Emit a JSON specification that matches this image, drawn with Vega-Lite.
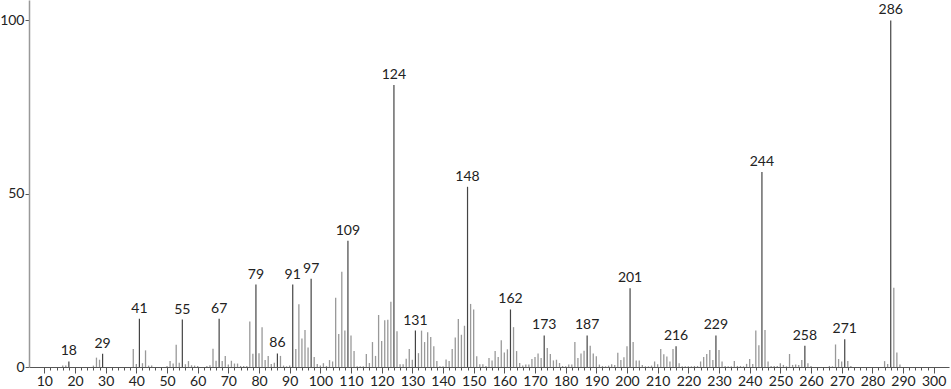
{
  "$schema": "https://vega.github.io/schema/vega-lite/v6.json",
  "width": 920,
  "height": 367,
  "autosize": "none",
  "padding": {"left": 29, "top": 0, "right": 2, "bottom": 22},
  "background": "white",
  "config": {"view": {"stroke": null}, "font": "Lato", "axis": {"labelOverlap": false, "labelBound": false, "labelFlush": false}},
  "datasets": {
    "peaks": [
      {"mz":16,"i":0.4},{"mz":17,"i":0.4},{"mz":18,"i":1.6,"lab":1},{"mz":26,"i":0.4},{"mz":27,"i":2.7},{"mz":28,"i":2.1},{"mz":29,"i":3.8,"lab":1},
      {"mz":39,"i":5.2},{"mz":40,"i":0.9},{"mz":41,"i":13.9,"lab":1},{"mz":42,"i":1.1},{"mz":43,"i":4.8},{"mz":44,"i":0.4},{"mz":45,"i":0.4},
      {"mz":50,"i":0.3},{"mz":51,"i":1.7},{"mz":52,"i":1.0},{"mz":53,"i":6.4},{"mz":54,"i":1.25},{"mz":55,"i":13.7,"lab":1},{"mz":56,"i":0.8},{"mz":57,"i":1.7},{"mz":58,"i":0.5},{"mz":59,"i":0.4},{"mz":60,"i":0.3},
      {"mz":63,"i":0.3},{"mz":64,"i":0.5},{"mz":65,"i":5.3},{"mz":66,"i":1.8},{"mz":67,"i":13.9,"lab":1},{"mz":68,"i":1.7},{"mz":69,"i":3.2},{"mz":70,"i":0.7},
      {"mz":71,"i":1.8},{"mz":72,"i":1.0},{"mz":73,"i":1.0},{"mz":74,"i":0.3},{"mz":75,"i":0.3},{"mz":76,"i":0.3},{"mz":77,"i":13.1},{"mz":78,"i":3.8},{"mz":79,"i":23.8,"lab":1},{"mz":80,"i":4.0},
      {"mz":81,"i":11.5},{"mz":82,"i":2.0},{"mz":83,"i":3.2},{"mz":84,"i":0.9},{"mz":85,"i":1.25},{"mz":86,"i":3.9,"lab":1},{"mz":87,"i":3.2},{"mz":88,"i":0.4},{"mz":89,"i":0.2},{"mz":90,"i":0.4},
      {"mz":91,"i":23.8,"lab":1},{"mz":92,"i":5.2},{"mz":93,"i":18.1},{"mz":94,"i":8.2},{"mz":95,"i":10.7},{"mz":96,"i":5.6},{"mz":97,"i":25.5,"lab":1},{"mz":98,"i":2.9},{"mz":99,"i":0.9},{"mz":100,"i":0.4},
      {"mz":101,"i":1.1},{"mz":102,"i":0.3},{"mz":103,"i":2.0},{"mz":104,"i":1.6},{"mz":105,"i":20.0},{"mz":106,"i":9.5},{"mz":107,"i":27.5},{"mz":108,"i":10.5},{"mz":109,"i":36.4,"lab":1},{"mz":110,"i":9.1},
      {"mz":111,"i":4.6},{"mz":112,"i":0.2},{"mz":113,"i":0.2},{"mz":114,"i":0.2},{"mz":115,"i":3.75},{"mz":116,"i":1.15},{"mz":117,"i":7.2},{"mz":118,"i":3.2},{"mz":119,"i":15.0},{"mz":120,"i":7.5},
      {"mz":121,"i":13.5},{"mz":122,"i":13.65},{"mz":123,"i":18.8},{"mz":124,"i":81.4,"lab":1},{"mz":125,"i":10.3},{"mz":126,"i":0.8},{"mz":127,"i":0.8},{"mz":128,"i":2.4},{"mz":129,"i":5.2},{"mz":130,"i":2.1},
      {"mz":131,"i":10.5,"lab":1},{"mz":132,"i":4.0},{"mz":133,"i":10.5},{"mz":134,"i":7.2},{"mz":135,"i":10.0},{"mz":136,"i":8.65},{"mz":137,"i":6.0},{"mz":138,"i":1.7},{"mz":139,"i":0.2},{"mz":140,"i":0.2},
      {"mz":141,"i":2.2},{"mz":142,"i":1.7},{"mz":143,"i":5.2},{"mz":144,"i":8.5},{"mz":145,"i":13.85},{"mz":146,"i":9.3},{"mz":147,"i":11.9},{"mz":148,"i":52.0,"lab":1},{"mz":149,"i":18.2},{"mz":150,"i":16.6},
      {"mz":151,"i":3.1},{"mz":152,"i":0.8},{"mz":153,"i":0.8},{"mz":154,"i":0.3},{"mz":155,"i":2.6},{"mz":156,"i":1.9},{"mz":157,"i":4.6},{"mz":158,"i":2.9},{"mz":159,"i":7.7},{"mz":160,"i":4.2},
      {"mz":161,"i":5.1},{"mz":162,"i":16.6,"lab":1},{"mz":163,"i":11.5},{"mz":164,"i":4.6},{"mz":165,"i":1.15},{"mz":166,"i":0.4},{"mz":167,"i":0.7},{"mz":168,"i":0.7},{"mz":169,"i":2.3},{"mz":170,"i":2.9},
      {"mz":171,"i":3.9},{"mz":172,"i":2.6},{"mz":173,"i":9.1,"lab":1},{"mz":174,"i":5.5},{"mz":175,"i":3.75},{"mz":176,"i":1.9},{"mz":177,"i":2.1},{"mz":178,"i":1.15},{"mz":179,"i":0.3},{"mz":180,"i":0.2},
      {"mz":181,"i":0.7},{"mz":182,"i":0.7},{"mz":183,"i":7.2},{"mz":184,"i":2.6},{"mz":185,"i":3.9},{"mz":186,"i":4.7},{"mz":187,"i":9.1,"lab":1},{"mz":188,"i":6.1},{"mz":189,"i":3.9},{"mz":190,"i":3.1},
      {"mz":191,"i":0.7},{"mz":192,"i":0.3},{"mz":193,"i":0.2},{"mz":194,"i":0.4},{"mz":195,"i":0.8},{"mz":196,"i":0.6},{"mz":197,"i":4.1},{"mz":198,"i":2.0},{"mz":199,"i":2.8},{"mz":200,"i":6.0},
      {"mz":201,"i":22.7,"lab":1},{"mz":202,"i":7.2},{"mz":203,"i":1.9},{"mz":204,"i":1.9},{"mz":205,"i":0.6},{"mz":206,"i":0.2},{"mz":207,"i":0.2},{"mz":208,"i":0.4},{"mz":209,"i":1.6},{"mz":210,"i":0.8},
      {"mz":211,"i":5.2},{"mz":212,"i":3.65},{"mz":213,"i":3.0},{"mz":214,"i":1.6},{"mz":215,"i":5.2},{"mz":216,"i":6.0,"lab":1},{"mz":217,"i":1.05},{"mz":218,"i":0.2},{"mz":219,"i":0.2},{"mz":220,"i":0.2},
      {"mz":221,"i":0.2},{"mz":222,"i":0.3},{"mz":223,"i":0.3},{"mz":224,"i":1.6},{"mz":225,"i":2.9},{"mz":226,"i":3.75},{"mz":227,"i":4.9},{"mz":228,"i":2.0},{"mz":229,"i":9.1,"lab":1},{"mz":230,"i":4.9},
      {"mz":231,"i":1.6},{"mz":232,"i":0.3},{"mz":233,"i":0.2},{"mz":234,"i":0.2},{"mz":235,"i":1.7},{"mz":236,"i":0.3},{"mz":237,"i":0.3},{"mz":238,"i":0.2},{"mz":239,"i":0.9},{"mz":240,"i":2.3},
      {"mz":241,"i":0.9},{"mz":242,"i":10.5},{"mz":243,"i":6.3},{"mz":244,"i":56.3,"lab":1},{"mz":245,"i":10.7},{"mz":246,"i":1.6},{"mz":247,"i":0.3},{"mz":248,"i":0.3},{"mz":249,"i":0.3},{"mz":250,"i":1.05},
      {"mz":251,"i":0.6},{"mz":252,"i":0.2},{"mz":253,"i":3.75},{"mz":254,"i":0.6},{"mz":255,"i":0.7},{"mz":256,"i":0.6},{"mz":257,"i":2.0},{"mz":258,"i":6.1,"lab":1},{"mz":259,"i":1.05},{"mz":260,"i":0.3},
      {"mz":266,"i":0.3},{"mz":267,"i":0.2},{"mz":268,"i":6.5},{"mz":269,"i":2.3},{"mz":270,"i":1.6},{"mz":271,"i":8.0,"lab":1},{"mz":272,"i":1.7},{"mz":273,"i":0.3},
      {"mz":284,"i":1.7},{"mz":285,"i":0.9},{"mz":286,"i":100,"lab":1},{"mz":287,"i":22.9},{"mz":288,"i":4.2},{"mz":289,"i":0.7}
    ]
  },
  "data": {"name": "peaks"},
  "layer": [
    {
      "transform": [{"filter": "!datum.lab"}],
      "mark": {"type": "rule", "strokeWidth": 1.3, "color": "#999999"},
      "encoding": {
        "x": {"field": "mz", "type": "quantitative", "scale": {"domain": [5, 305], "nice": false, "zero": false},
          "axis": {"values": [10,12,14,16,18,20,22,24,26,28,30,32,34,36,38,40,42,44,46,48,50,52,54,56,58,60,62,64,66,68,70,72,74,76,78,80,82,84,86,88,90,92,94,96,98,100,102,104,106,108,110,112,114,116,118,120,122,124,126,128,130,132,134,136,138,140,142,144,146,148,150,152,154,156,158,160,162,164,166,168,170,172,174,176,178,180,182,184,186,188,190,192,194,196,198,200,202,204,206,208,210,212,214,216,218,220,222,224,226,228,230,232,234,236,238,240,242,244,246,248,250,252,254,256,258,260,262,264,266,268,270,272,274,276,278,280,282,284,286,288,290,292,294,296,298,300],
            "tickCount": 1000,
            "format": "d",
            "labelExpr": "datum.value % 10 === 0 ? datum.label : ''",
            "labelOverlap": false, "labelBound": false, "labelFlush": false, "title": null, "grid": false,
            "domainColor": "#555555", "domainWidth": 1,
            "tickColor": "#555555",
            "tickSize": {"condition": {"test": "datum.value % 10 === 0", "value": 6}, "value": 3},
            "labelFontSize": 14, "labelColor": "#222222", "labelPadding": 1, "labelFont": "Lato"}},
        "y": {"field": "i", "type": "quantitative", "scale": {"domain": [0, 105.9], "nice": false},
          "axis": {"values": [0, 50, 100], "format": "d", "title": null, "grid": false, "domainColor": "#999999", "domainWidth": 1.5,
            "tickColor": "#555555", "tickSize": 4, "labelFontSize": 14, "labelColor": "#222222", "labelPadding": 1, "labelFont": "Lato"}},
        "y2": {"datum": 0}
      }
    },
    {
      "transform": [{"filter": "datum.lab"}],
      "mark": {"type": "rule", "strokeWidth": 1.2, "color": "#444444"},
      "encoding": {
        "x": {"field": "mz", "type": "quantitative"},
        "y": {"field": "i", "type": "quantitative"},
        "y2": {"datum": 0}
      }
    },
    {
      "transform": [{"filter": "datum.lab"}],
      "mark": {"type": "text", "baseline": "bottom", "dy": -3, "fontSize": 14, "color": "#222222", "font": "Lato"},
      "encoding": {
        "x": {"field": "mz", "type": "quantitative"},
        "y": {"field": "i", "type": "quantitative"},
        "text": {"field": "mz", "type": "quantitative"}
      }
    }
  ]
}
